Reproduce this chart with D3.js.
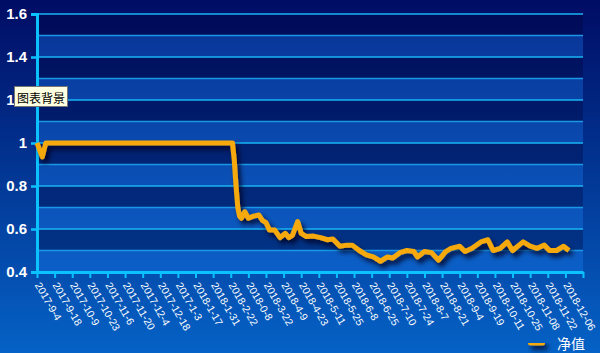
<!DOCTYPE html>
<html>
<head>
<meta charset="utf-8">
<script src="https://cdn.jsdelivr.net/npm/d3@7/dist/d3.min.js"></script>
<style>
  html, body { margin: 0; padding: 0; }
  body { width: 600px; height: 353px; overflow: hidden; }
</style>
</head>
<body>
<div id="chart"></div>
<script>
// tick labels on the x axis, one every 10 trading days
const dateLabels = ["2017-9-4", "2017-9-18", "2017-10-9", "2017-10-23", "2017-11-6", "2017-11-20",
  "2017-12-4", "2017-12-18", "2017-1-3", "2018-1-17", "2018-1-31", "2018-2-22", "2018-0-8",
  "2018-3-22", "2018-4-9", "2018-4-23", "2018-5-11", "2018-5-25", "2018-6-8", "2018-6-25",
  "2018-7-10", "2018-7-24", "2018-8-7", "2018-8-21", "2018-9-4", "2018-9-19", "2018-10-11",
  "2018-10-25", "2018-11-08", "2018-11-22", "2018-12-06"];

// net value series: trading-day index and value
const navDay = [0, 1, 3, 5, 111, 112, 113, 114, 115, 116, 118, 120, 123, 126, 128, 130, 132, 135,
  138, 141, 143, 145, 148, 150, 153, 157, 161, 165, 168, 172, 176, 179, 183, 187, 191, 195, 199,
  202, 206, 210, 214, 216, 220, 224, 228, 232, 235, 240, 243, 247, 252, 256, 259, 263, 267, 270,
  276, 280, 284, 288, 291, 295, 299, 302];
const nav = [1.0, 0.98, 0.935, 1.0, 1.0, 0.92, 0.8, 0.7, 0.66, 0.65, 0.68, 0.65, 0.66, 0.665, 0.64,
  0.63, 0.595, 0.595, 0.56, 0.58, 0.56, 0.57, 0.635, 0.58, 0.565, 0.567, 0.56, 0.55, 0.553, 0.52,
  0.525, 0.525, 0.5, 0.48, 0.47, 0.45, 0.47, 0.465, 0.49, 0.5, 0.495, 0.47, 0.495, 0.49, 0.455,
  0.495, 0.51, 0.52, 0.495, 0.51, 0.54, 0.55, 0.5, 0.51, 0.54, 0.5, 0.54, 0.52, 0.51, 0.525, 0.5,
  0.5, 0.52, 0.5];

const yTicks = [0.4, 0.6, 0.8, 1.0, 1.2, 1.4, 1.6];
const seriesName = "净值";

const W = 600, H = 353;
const plot = { left: 37, right: 583, top: 14, bottom: 272 };

const svg = d3.select("#chart").append("svg")
  .attr("width", W)
  .attr("height", H);

const defs = svg.append("defs");
const bg = defs.append("linearGradient")
  .attr("id", "bg").attr("x1", 0).attr("y1", 0).attr("x2", 0).attr("y2", 1);
bg.append("stop").attr("offset", "0%").attr("stop-color", "#000c64");
bg.append("stop").attr("offset", "100%").attr("stop-color", "#0562c6");

const shadow = defs.append("filter").attr("id", "shadow")
  .attr("filterUnits", "userSpaceOnUse")
  .attr("x", 0).attr("y", 0).attr("width", W).attr("height", H);
shadow.append("feDropShadow")
  .attr("dx", 3).attr("dy", 4).attr("stdDeviation", 2.5)
  .attr("flood-color", "#00061c").attr("flood-opacity", 0.85);

svg.append("rect").attr("width", W).attr("height", H).attr("fill", "url(#bg)");

const x = d3.scaleLinear().domain([0, 310]).range([plot.left, plot.right]);
const y = d3.scaleLinear().domain([0.4, 1.6]).range([plot.bottom, plot.top]);

// alternating bands every 0.1
const bands = d3.range(12).map(i => 0.4 + i * 0.1);
svg.append("g").selectAll("rect")
  .data(bands)
  .join("rect")
  .attr("x", plot.left)
  .attr("width", plot.right - plot.left)
  .attr("y", d => y(d + 0.1))
  .attr("height", d => y(d) - y(d + 0.1))
  .attr("fill", (d, i) => i % 2 === 0 ? "rgba(30,135,255,0.3)" : "rgba(0,0,50,0.3)");

// grid lines
const gridVals = d3.range(13).map(i => 0.4 + i * 0.1);
svg.append("g").selectAll("line")
  .data(gridVals)
  .join("line")
  .attr("x1", plot.left).attr("x2", plot.right)
  .attr("y1", d => y(d)).attr("y2", d => y(d))
  .attr("stroke", (d, i) => i % 2 === 0 ? "#1ab4f4" : "#1898e6")
  .attr("stroke-width", 1.5);

// y axis
const yAxis = svg.append("g")
  .attr("transform", `translate(${plot.left},0)`)
  .call(d3.axisLeft(y).tickValues(yTicks).tickSize(6).tickPadding(4)
    .tickFormat(d => d3.format("")(+d.toFixed(1))));
yAxis.select(".domain").attr("stroke", "#0bc2ff").attr("stroke-width", 3);
yAxis.selectAll(".tick line").attr("stroke", "#0bc2ff").attr("stroke-width", 2.5);
yAxis.selectAll(".tick text")
  .attr("fill", "#fff")
  .style("font-family", "'Liberation Sans', Arial, sans-serif")
  .style("font-size", "15px")
  .style("font-weight", "bold");

// x axis
const xTickDays = d3.range(32).map(i => i * 10);
const xAxis = svg.append("g")
  .attr("transform", `translate(0,${plot.bottom})`)
  .call(d3.axisBottom(x).tickValues(xTickDays).tickSize(6).tickSizeOuter(0).tickFormat(""));
xAxis.select(".domain").attr("stroke", "#0bc2ff").attr("stroke-width", 3);
xAxis.selectAll(".tick line").attr("stroke", "#0bc2ff").attr("stroke-width", 2);

svg.append("g").selectAll("text")
  .data(dateLabels)
  .join("text")
  .attr("transform", (d, i) => `translate(${x(i * 10) + 1},${plot.bottom + 11}) rotate(60)`)
  .attr("dominant-baseline", "central")
  .attr("fill", "#fff")
  .style("font-family", "'Liberation Sans', Arial, sans-serif")
  .style("font-size", "10.5px")
  .text(d => d);

// net value line
const points = navDay.map((d, i) => [d, nav[i]]);
const line = d3.line().x(d => x(d[0])).y(d => y(d[1]));
svg.append("path")
  .datum(points)
  .attr("d", line)
  .attr("fill", "none")
  .attr("stroke", "#f6a90a")
  .attr("stroke-width", 5)
  .attr("stroke-linejoin", "round")
  .attr("filter", "url(#shadow)");

// legend
const legend = svg.append("g").attr("transform", "translate(528,343)");
legend.append("rect")
  .attr("x", 0).attr("y", -2.5)
  .attr("width", 17).attr("height", 5)
  .attr("rx", 2.5)
  .attr("fill", "#f6a90a")
  .attr("filter", "url(#shadow)");
legend.append("text")
  .attr("x", 29).attr("y", 0)
  .attr("dominant-baseline", "central")
  .attr("fill", "#fff")
  .style("font-family", "'Noto Sans CJK SC', sans-serif")
  .style("font-size", "14px")
  .text(seriesName);

// title tooltip box
const tip = svg.append("g").attr("transform", "translate(14,86)");
tip.append("rect")
  .attr("x", 0.5).attr("y", 0.5)
  .attr("width", 53).attr("height", 20)
  .attr("fill", "#ffffe1")
  .attr("stroke", "#767676");
tip.append("text")
  .attr("x", 3).attr("y", 11)
  .attr("dominant-baseline", "central")
  .attr("fill", "#000")
  .style("font-family", "'Noto Sans CJK SC', sans-serif")
  .style("font-size", "12px")
  .text("图表背景");
</script>
</body>
</html>
